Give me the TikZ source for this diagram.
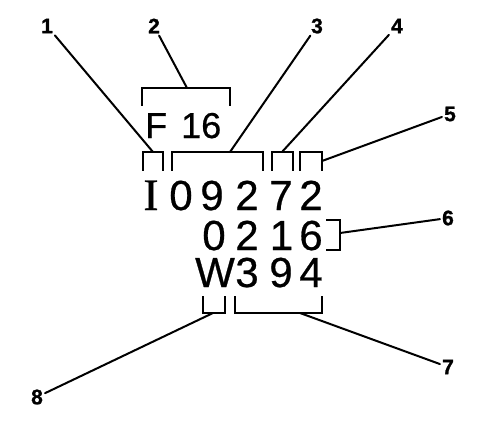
\documentclass[tikz,border=0pt]{standalone}
\usepackage{fontspec}
\setmainfont{Liberation Sans}
\newfontfamily\digitfont[FakeBold=0.6]{Liberation Sans}
\newfontfamily\labfont[FakeBold=1.2]{Liberation Sans Bold}
\newfontfamily\serifI[FakeBold=0.8]{Liberation Serif}
\begin{document}
\begin{tikzpicture}[x=1pt,y=-1pt,
  big/.style={inner sep=0pt,anchor=base,text height=28pt,text depth=0pt,font=\fontsize{42}{46}\digitfont},
  mid/.style={inner sep=0pt,anchor=base west,font=\fontsize{36}{40}\digitfont},
  lab/.style={inner sep=2pt,font=\fontsize{21}{24}\labfont},
  brk/.style={line width=2pt,line cap=rect},
  lead/.style={line width=2pt,line cap=round}]
\useasboundingbox (0,0) rectangle (480,421);
% F 16
\node[mid] (F) at (145,138) {F};
\node[mid] (n16) at (181,138) {16};
% row 1
\node[inner sep=0pt,anchor=base,font=\fontsize{45}{48}\serifI] (rI) at (151,210) {I};
\node[big] (r1a) at (181,210) {0};
\node[big] (r1b) at (212,210) {9};
\node[big] (r1c) at (247,210) {2};
\node[big] (r1d) at (281,210) {7};
\node[big] (r1e) at (311,210) {2};
% row 2
\node[big] (r2a) at (214,250) {0};
\node[big] (r2b) at (247,250) {2};
\node[big] (r2c) at (281.5,250) {1};
\node[big] (r2d) at (311,250) {6};
% row 3
\node[big] (r3a) at (215,287) {W};
\node[big] (r3b) at (247,287) {3};
\node[big] (r3c) at (281,287) {9};
\node[big] (r3d) at (311,287) {4};
% brackets
\draw[brk] (143,170) -- (143,152) -- (163,152) -- (163,170);
\draw[brk] (142,105) -- (142,88) -- (230,88) -- (230,105);
\draw[brk] (172,170) -- (172,152) -- (263,152) -- (263,170);
\draw[brk] (272,170) -- (272,152) -- (293,152) -- (293,170);
\draw[brk] (300,170) -- (300,152) -- (322,152) -- (322,170);
\draw[brk] (327,220) -- (340,220) -- (340,250) -- (327,250);
\draw[brk] (203,297) -- (203,313) -- (225,313) -- (225,297);
\draw[brk] (235,297) -- (235,313) -- (322,313) -- (322,297);
% attachment points
\coordinate (a1) at (153,152);
\coordinate (a2) at (187,88);
\coordinate (a3) at (230,152);
\coordinate (a4) at (282,152);
\coordinate (a5) at (322,161);
\coordinate (a6) at (340,233);
\coordinate (a7) at (300,313);
\coordinate (a8) at (213,313);
% labels
\node[lab] (l1) at (47,26) {1};
\node[lab] (l2) at (154,26) {2};
\node[lab] (l3) at (317,26) {3};
\node[lab] (l4) at (397,26) {4};
\node[lab] (l5) at (450,114) {5};
\node[lab] (l6) at (448,218) {6};
\node[lab] (l7) at (448,367) {7};
\node[lab] (l8) at (37,397) {8};
% leaders
\draw[lead] (l1) -- (a1);
\draw[lead] (l2) -- (a2);
\draw[lead] (l3) -- (a3);
\draw[lead] (l4) -- (a4);
\draw[lead] (l5) -- (a5);
\draw[lead] (l6) -- (a6);
\draw[lead] (l7) -- (a7);
\draw[lead] (l8) -- (a8);
\end{tikzpicture}
\end{document}
